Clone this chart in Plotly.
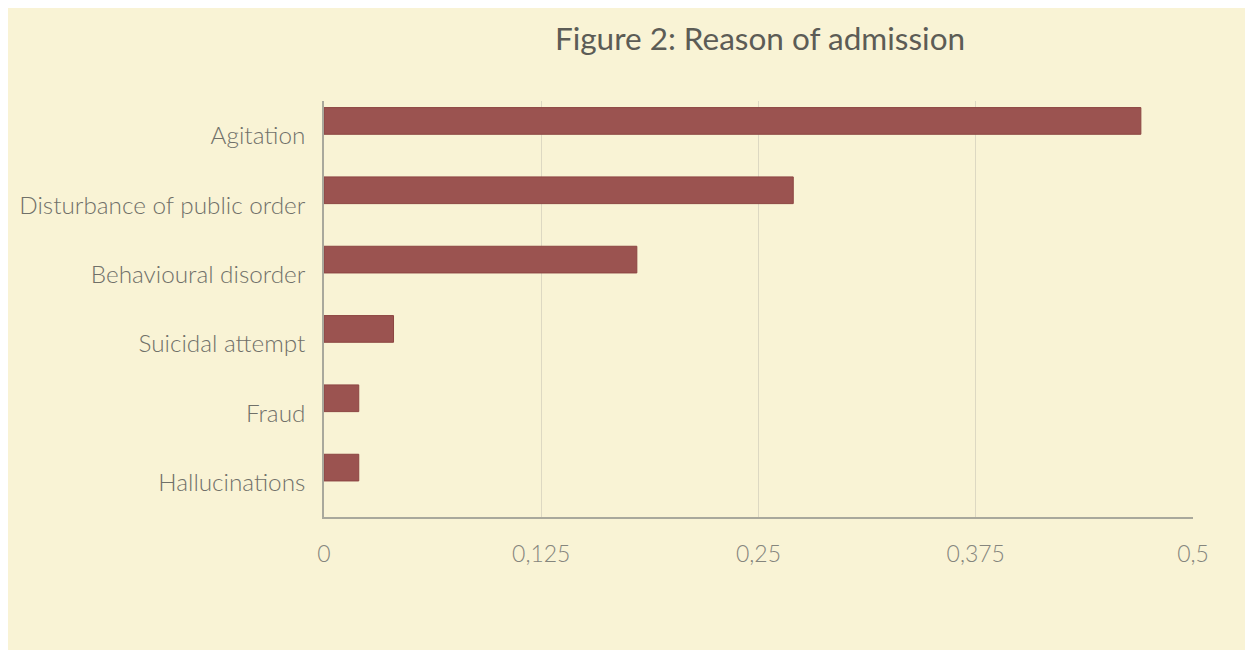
import plotly.graph_objects as go

categories = ["Agitation", "Disturbance of public order", "Behavioural disorder",
              "Suicidal attempt", "Fraud", "Hallucinations"]
values = [0.47, 0.27, 0.18, 0.04, 0.02, 0.02]
tick_vals = [0, 0.125, 0.25, 0.375, 0.5]
tick_text = ["0", "0,125", "0,25", "0,375", "0,5"]
title_text = "Figure 2: Reason of admission"

# page body margin (8px) provides the thin white border of the reference
W, H = 1245, 642
L, R, T, B = 316, 60, 93, 133
pw, ph = W - L - R, H - T - B

def px_x(p):
    return (p - L) / pw

fig = go.Figure(go.Bar(
    y=categories, x=values, orientation="h",
    width=0.385, offset=-0.405,
    marker=dict(color="#9B5350", line=dict(color="#8C4542", width=1)),
))

fig.update_layout(
    width=W, height=H,
    margin=dict(l=L, r=R, t=T, b=B),
    paper_bgcolor="#F9F3D5",
    plot_bgcolor="#F9F3D5",
    showlegend=False,
    title=dict(text=title_text, x=px_x(752), xref="paper", xanchor="center",
               y=1 - 31 / H, yanchor="middle",
               font=dict(family="Lato", size=31.5, color="#5C5C56")),
    xaxis=dict(range=[0, 0.5], tickvals=tick_vals, ticktext=tick_text,
               showgrid=True, gridcolor="#DDD8C2", gridwidth=1,
               showline=True, linecolor="#A9A89C", linewidth=1.5,
               zeroline=False, ticks="", ticklabelstandoff=16, automargin=False,
               tickfont=dict(family="Lato", size=23, weight=300, color="#85857D")),
    yaxis=dict(autorange="reversed", showgrid=False,
               showline=True, linecolor="#A9A89C", linewidth=1.5,
               ticks="", ticklabelstandoff=12, automargin=False,
               tickfont=dict(family="Lato", size=24.3, weight=300, color="#707069")),
)

fig.write_html("out.html")
